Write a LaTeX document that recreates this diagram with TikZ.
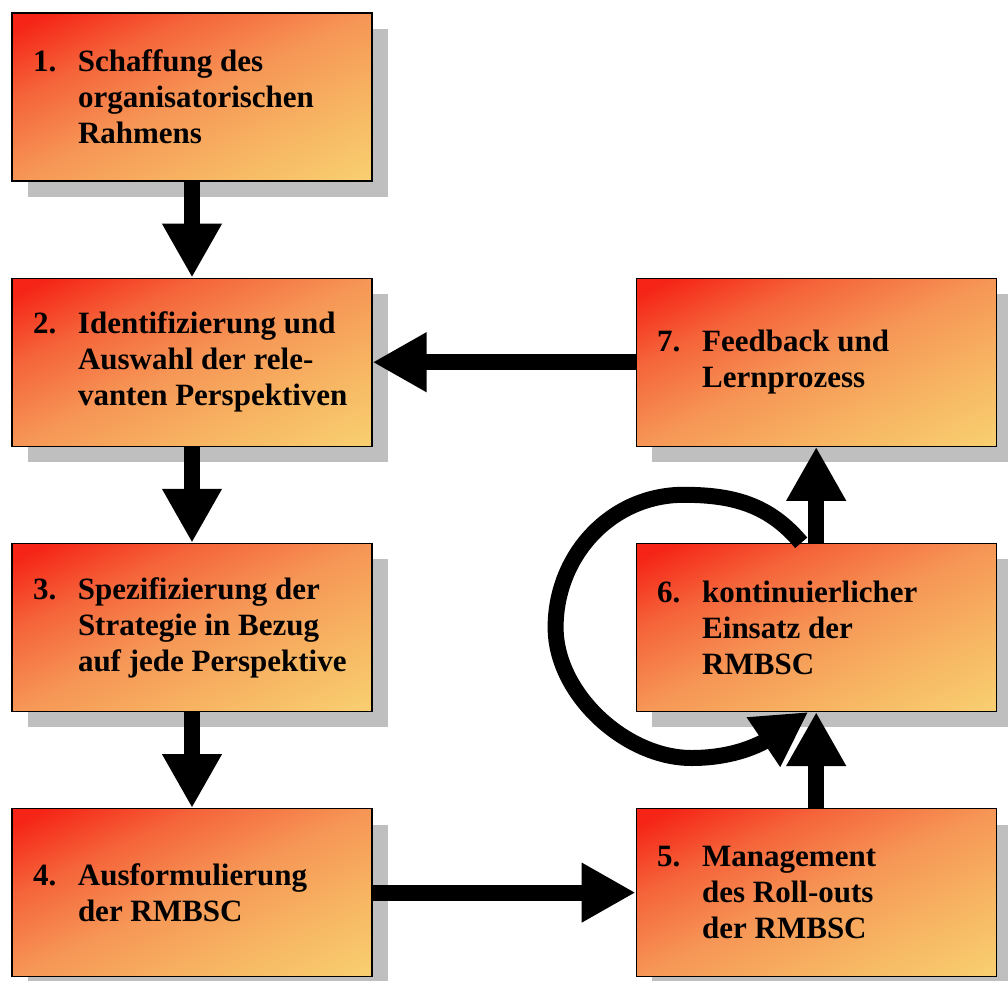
\documentclass[tikz,border=0pt]{standalone}
\usepackage{fontspec}
\setmainfont{Liberation Serif}
\usepackage{tikz}
\usetikzlibrary{positioning,shapes,arrows.meta,shadows,calc}
\definecolor{boxred}{RGB}{245,36,22}
\definecolor{boxmid}{RGB}{245,100,58}
\definecolor{boxorange}{RGB}{246,150,86}
\definecolor{boxlight}{RGB}{247,180,98}
\definecolor{boxyellow}{RGB}{248,206,112}
\pgfdeclareverticalshading{boxshade}{100bp}{color(0bp)=(boxyellow); color(18bp)=(boxyellow); %
   color(34bp)=(boxlight); color(50bp)=(boxorange); color(66bp)=(boxmid); %
   color(80bp)=(boxred); color(100bp)=(boxred)}
\tikzstyle{stepbox} = [rectangle, draw, line width=0.6pt, %
   shade, shading=boxshade, shading angle=25, %
   minimum width=180pt, minimum height=84pt, inner xsep=10.5pt, %
   drop shadow={shadow xshift=8pt, shadow yshift=-8pt, fill=black!25, opacity=1}, %
   font=\fontsize{15.5}{18}\selectfont\bfseries]
\tikzstyle{line} = [draw, line width=8pt, -{Triangle[width=28pt,length=27pt]}]
\newcommand{\numitem}[2]{\makebox[22.5pt][l]{#1}\parbox[t]{136.5pt}{\raggedright #2}}

\begin{document}
\begin{tikzpicture}
         \useasboundingbox (0,0) rectangle (504pt,-490.5pt);

      % Place nodes
      % left column %%%%%%%%%%%%%%%%%%%%%%%%%%%%%%%%%%%%%%%%%%%%%%%%%%%%
         \node[stepbox] (b1) at (96pt,-48.5pt){%
            \numitem{1.}{Schaffung des\\organisatorischen\\Rahmens}};
         \node[stepbox, below=48pt of b1](b2){%
            \numitem{2.}{Identifizierung und\\Auswahl der rele-\\vanten Perspektiven}};
         \node[stepbox, below=48pt of b2](b3){%
            \numitem{3.}{Spezifizierung der\\Strategie in Bezug\\auf jede Perspektive}};
         \node[stepbox, below=48pt of b3](b4){%
            \numitem{4.}{Ausformulierung\\der RMBSC}};

      % right column %%%%%%%%%%%%%%%%%%%%%%%%%%%%%%%%%%%%%%%%%%%%%%%%%%%
         \node[stepbox, right=131.5pt of b4](b5){%
            \numitem{5.}{Management\\des Roll-outs\\der RMBSC}};
         \node[stepbox, right=131.5pt of b3](b6){%
            \numitem{6.}{kontinuierlicher\\Einsatz der\\RMBSC}};
         \node[stepbox, right=131.5pt of b2](b7){%
            \numitem{7.}{Feedback und\\Lernprozess}};

         \coordinate (loopstart) at ($(b6.north) + (-7.5pt,0pt)$);
         \coordinate (loopend) at ($(b6.south) + (-4pt,0pt)$);

         % Draw edges
         \path [line] (b1) -- (b2);
         \path [line] (b2) -- (b3);
         \path [line] (b3) -- (b4);
         \path [line] (b4) -- (b5);
         \path [line] (b5) -- (b6);
         \path [line] (b6) -- (b7);
         \path [line] (b7) -- (b2);
         % loop round box 6
         \path [line] (loopstart) to[out=130, in=0] ($(b6.north west) + (24pt,24pt)$)
            to[out=180, in=90] ($(b6.west) + (-40pt,0pt)$)
            to[out=-90, in=180, looseness=0.9] ($(b6.south west) + (28pt,-23pt)$)
            to[out=0, in=214] (loopend);

      \end{tikzpicture}
\end{document}
